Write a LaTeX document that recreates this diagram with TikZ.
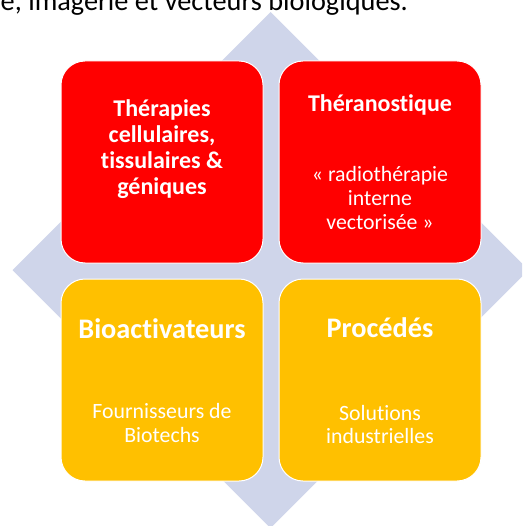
\documentclass[tikz,border=0pt]{standalone}
\usepackage{fontspec}
\setmainfont{Carlito}[Ligatures=NoCommon, RawFeature=-liga]
\definecolor{diamondcol}{RGB}{207,213,234}
\definecolor{redbox}{RGB}{255,0,0}
\definecolor{orangebox}{RGB}{255,192,0}
\tikzset{
  quadbox/.style={rectangle, rounded corners=24pt, minimum width=202pt, minimum height=202pt, inner sep=0pt, draw=white, line width=1pt},
  titletext/.style={anchor=base, inner sep=0pt, text=white, font=\fontsize{24}{26}\selectfont\bfseries},
  bigtitletext/.style={anchor=base, inner sep=0pt, text=white, font=\fontsize{28.3}{30}\selectfont\bfseries},
  subtext/.style={anchor=base, inner sep=0pt, text=white, font=\fontsize{21.8}{24}\selectfont},
  headtext/.style={anchor=base east, inner sep=0pt, text=black, font=\fontsize{28.3}{30}\selectfont}
}
\begin{document}
\begin{tikzpicture}[x=1pt, y=-1pt]
\useasboundingbox (0,0) rectangle (522,526);
\clip (0,0) rectangle (522,526);
\node[headtext] (head) at (408,10.5) {e, imagerie et vecteurs biologiques.};
\fill[diamondcol] (270.5,12) -- (528.5,270) -- (270.5,528) -- (12.5,270) -- cycle;
\node[quadbox, fill=redbox] (tl) at (162,162) {};
\node[quadbox, fill=redbox] (tr) at (380,162) {};
\node[quadbox, fill=orangebox] (bl) at (162,380) {};
\node[quadbox, fill=orangebox] (br) at (380,380) {};
% top-left
\node[titletext] (tl1) at (162,117) {Thérapies};
\node[titletext] (tl2) at (162,143) {cellulaires,};
\node[titletext] (tl3) at (162,169) {tissulaires \&};
\node[titletext] (tl4) at (162,195) {géniques};
% top-right
\node[titletext] (tr1) at (380,111.5) {Théranostique};
\node[subtext] (tr2) at (380,181.5) {« radiothérapie};
\node[subtext] (tr3) at (380,205.5) {interne};
\node[subtext] (tr4) at (380,229.3) {vectorisée »};
% bottom-left
\node[bigtitletext] (bl1) at (162,338) {Bioactivateurs};
\node[subtext] (bl2) at (162,418.5) {Fournisseurs de};
\node[subtext] (bl3) at (162,442) {Biotechs};
% bottom-right
\node[bigtitletext] (br1) at (380,337.5) {Procédés};
\node[subtext] (br2) at (380,420) {Solutions};
\node[subtext] (br3) at (380,443.5) {industrielles};
\end{tikzpicture}
\end{document}
